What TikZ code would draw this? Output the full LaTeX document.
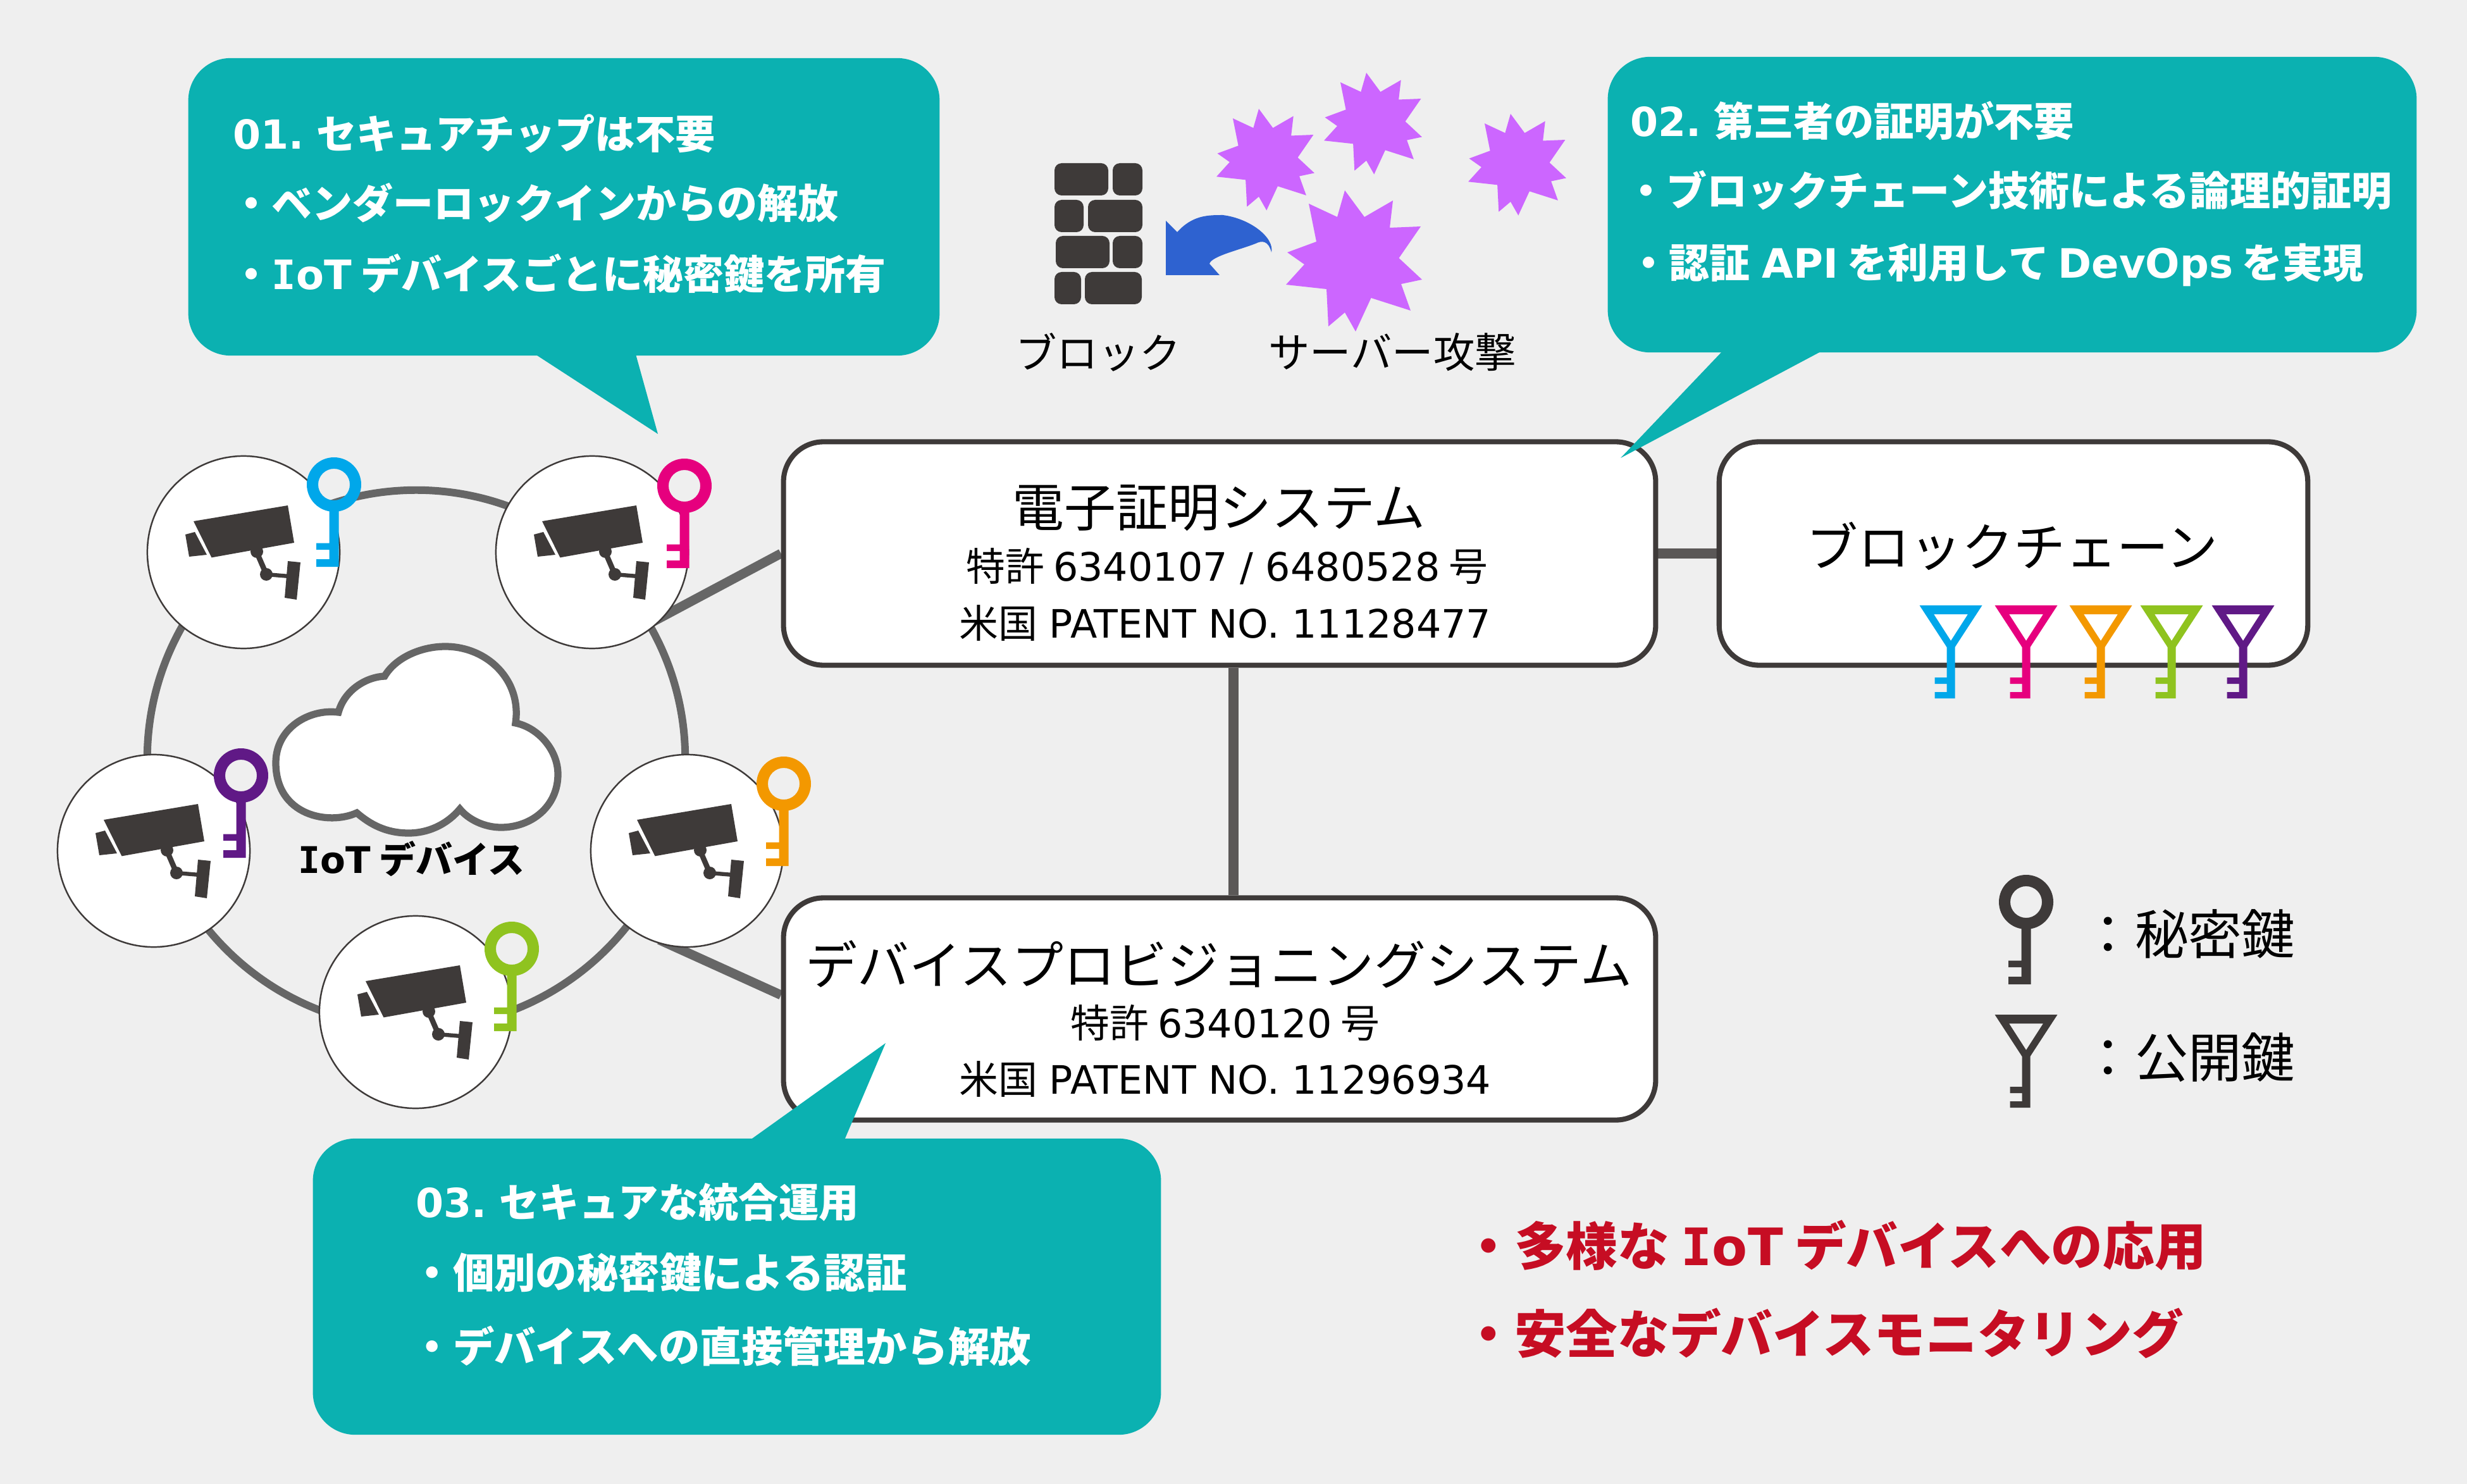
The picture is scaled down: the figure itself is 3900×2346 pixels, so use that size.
\documentclass[tikz,border=0pt]{standalone}
\usepackage{fontspec}
\setmainfont{Noto Sans CJK JP}
\newfontfamily\latf{DejaVu Sans}
\newfontfamily\monof{DejaVu Sans Mono}
\newcommand\lt[1]{{\latf #1}}
\newcommand\iot{{\monof I}{\latf oT} }
\usetikzlibrary{calc}
\pgfdeclarelayer{bglayer}
\pgfdeclarelayer{connlayer}
\pgfsetlayers{bglayer,connlayer,main}
\definecolor{bgc}{HTML}{EFEFEF}
\definecolor{tealc}{HTML}{0BB1B1}
\definecolor{darkc}{HTML}{3E3A39}
\definecolor{linec}{HTML}{666666}
\definecolor{boxline}{HTML}{3E3A39}
\definecolor{burstc}{HTML}{CC66FF}
\definecolor{arrowc}{HTML}{2E62D0}
\definecolor{redc}{HTML}{C60D23}
\definecolor{kblue}{HTML}{00A7EA}
\definecolor{kpink}{HTML}{E6007E}
\definecolor{korange}{HTML}{F39800}
\definecolor{kgreen}{HTML}{8FC31F}
\definecolor{kpurple}{HTML}{601986}
\tikzset{
  sysbox/.style={draw=boxline,line width=2.3pt,fill=white,rounded corners=18pt,inner sep=0pt},
  callout/.style={fill=tealc,rounded corners=19pt,inner sep=0pt},
  camcircle/.style={circle,draw=boxline,line width=0.7pt,fill=white,minimum size=3.04cm,inner sep=0pt},
  systitle/.style={font=\fontsize{23.3}{27}\selectfont,text=black,inner sep=0pt},
  syssub/.style={font=\fontsize{17.6}{21}\selectfont,text=black,inner sep=0pt,text height=15.5pt,text depth=2.1pt},
  calltext/.style={font=\fontsize{18.2}{22}\selectfont\bfseries,text=white,anchor=west,inner sep=0pt,text height=16pt,text depth=2.2pt},
  calltitle/.style={calltext,font=\fontsize{18}{22}\selectfont\bfseries},
  calltextb/.style={calltext,font=\fontsize{18.6}{22}\selectfont\bfseries},
  redtext/.style={font=\fontsize{23.2}{27}\selectfont\bfseries,text=redc,anchor=west,inner sep=0pt,text height=20.4pt,text depth=2.8pt},
  plaintext/.style={font=\fontsize{18.6}{22}\selectfont,text=black,inner sep=0pt},
  legendtext/.style={font=\fontsize{24}{28}\selectfont,text=black,anchor=west,inner sep=0pt},
  conn/.style={draw=linec,line width=4.2pt},
  connbox/.style={draw=boxline!85!white,line width=4.6pt}
}
\newcommand\privkey[3]{\begin{scope}[shift={(#1,#2)}]
  \fill[#3,even odd rule] (0,0) circle (43) (0,0) circle (25);
  \fill[#3] (-7.5,38) -- (7.5,38) -- (7.5,130) -- (-28,130) -- (-28,118) -- (-7.5,118) -- (-7.5,103) -- (-28,103) -- (-28,92.5) -- (-7.5,92.5) -- cycle;
\end{scope}}
\newcommand\pubkey[3]{\begin{scope}[shift={(#1,#2)}]
  \fill[#3,even odd rule] (-49.5,0) -- (49.5,0) -- (6.5,66) -- (-6.5,66) -- cycle (-27,14) -- (27,14) -- (0,56) -- cycle;
  \fill[#3] (-6.5,60) -- (6.5,60) -- (6.5,147) -- (-25.5,147) -- (-25.5,137) -- (-6.5,137) -- (-6.5,124) -- (-25.5,124) -- (-25.5,114) -- (-6.5,114) -- cycle;
\end{scope}}
\newcommand\camglyph[2]{\begin{scope}[shift={(#1,#2)}]
  \fill[darkc] (-79,-49) -- (70,-74) -- (80,-15) -- (-50.5,8.4) -- cycle;
  \fill[darkc] (-92,-28) -- (-77,-32) -- (-58,4) -- (-86,7) -- cycle;
  \fill[darkc] (70,14) -- (90,16) -- (84,75) -- (65,72) -- cycle;
  \draw[darkc,line width=2.4pt] (20,-2) -- (36,35);
  \draw[darkc,line width=1.8pt] (36,35) -- (72,38);
  \fill[darkc] (36,35) circle (10) (21,-1) circle (10);
\end{scope}}
\newcommand\burst[3]{\fill[burstc,shift={(#1,#2)},scale=#3]
  (0,0) -- (31,42) -- (76,16) -- (71,59) -- (120,57) -- (85.5,107) -- (122,141) -- (89,148) -- (104,190) -- (41.5,170) -- (17,223) -- (0,193) -- (-26,215) -- (-29,156) -- (-93,149) -- (-64,117) -- (-91,98) -- (-45,81) -- (-57,21) -- (-12,42) -- cycle;}
\newcommand\brick[4]{\fill[darkc,rounded corners=3.2pt] (#1,#3) rectangle (#2,#4);}
\begin{document}
\begin{tikzpicture}[x=0.01cm,y=-0.01cm]
\useasboundingbox (0,0) rectangle (3900,2346);
\begin{pgfonlayer}{bglayer}
\fill[bgc] (0,0) rectangle (3900,2346);
\end{pgfonlayer}

% ring and cloud
\node[circle,draw=linec,line width=3.4pt,minimum size=8.5cm,inner sep=0pt] (ring) at (658,1200) {};
\draw[linec,line width=3.2pt,fill=white] (564,1285) .. controls (520,1305) and (436,1290) .. (436,1206)
  .. controls (436,1150) and (490,1120) .. (535,1126)
  .. controls (545,1090) and (580,1070) .. (608,1069)
  .. controls (625,1040) and (665,1022) .. (704,1022)
  .. controls (770,1022) and (825,1075) .. (815,1143)
  .. controls (850,1150) and (882,1185) .. (882,1224)
  .. controls (882,1275) and (840,1308) .. (792,1308)
  .. controls (765,1308) and (740,1295) .. (727,1279)
  .. controls (705,1305) and (675,1317) .. (646,1317)
  .. controls (610,1317) and (585,1303) .. (564,1285) -- cycle;
\node[font=\fontsize{16.5}{20}\selectfont\bfseries,text=black,inner sep=0pt] (iotlabel) at (651,1358) {\iot デバイス};

% cameras
\node[camcircle] (cam1) at (385,873) {};
\node[camcircle] (cam2) at (936,873) {};
\node[camcircle] (cam3) at (243,1345) {};
\node[camcircle] (cam4) at (1086,1345) {};
\node[camcircle] (cam5) at (657,1600) {};
\camglyph{385}{873}\camglyph{936}{873}\camglyph{243}{1345}\camglyph{1086}{1345}\camglyph{657}{1600}
\privkey{528}{766}{kblue}
\privkey{1082}{768}{kpink}
\privkey{381}{1226}{kpurple}
\privkey{1239}{1239}{korange}
\privkey{809}{1500}{kgreen}

% system boxes
\node[sysbox,minimum width=13.78cm,minimum height=3.53cm] (cert) at (1928,875) {};
\node[sysbox,minimum width=13.78cm,minimum height=3.51cm] (device) at (1928,1595) {};
\node[sysbox,minimum width=9.30cm,minimum height=3.53cm] (chain) at (3183,875) {};

% connectors
\begin{pgfonlayer}{connlayer}
\draw[conn] ($(cam2.-40)!-0.15!(cert.west)$) -- (cert.west);
\draw[conn] ($(cam4.-97)!-0.15!($(device.west)+(0,-22)$)$) -- ($(device.west)+(0,-22)$);
\draw[connbox] (cert.east) -- (chain.west);
\draw[connbox] ($(cert.south)+(22,0)$) -- ($(device.north)+(22,0)$);
\end{pgfonlayer}

\node[systitle] (certtitle) at (1927,803) {電子証明システム};
\node[syssub] (certa) at (1940,895) {特許 \lt{6340107 / 6480528} 号};
\node[syssub] (certb) at (1937,985) {米国\hspace{.3em}\lt{PATENT NO. 11128477}};
\node[systitle] (devtitle) at (1927,1524) {デバイスプロビジョニングシステム};
\node[syssub] (deva) at (1937,1617) {特許 \lt{6340120} 号};
\node[syssub] (devb) at (1937,1706) {米国\hspace{.3em}\lt{PATENT NO. 11296934}};
\node[systitle] (chaintitle) at (3181,863) {ブロックチェーン};

\pubkey{3084}{957}{kblue}
\pubkey{3203}{957}{kpink}
\pubkey{3321}{957}{korange}
\pubkey{3433}{957}{kgreen}
\pubkey{3546}{957}{kpurple}

% attack picture
\brick{1667}{1752}{258}{309}\brick{1759}{1806}{258}{309}
\brick{1667}{1713}{316}{367}\brick{1720}{1806}{316}{367}
\brick{1669}{1754}{373}{424}\brick{1759}{1806}{373}{424}
\brick{1667}{1709}{430}{481}\brick{1715}{1805}{430}{481}
\fill[arrowc] (1843,349) -- (1861,367) .. controls (1885,340) and (1910,340) .. (1933,340)
  .. controls (1975,345) and (2015,375) .. (2010,399)
  .. controls (2005,380) and (1995,380) .. (1985,385)
  .. controls (1960,395) and (1915,405) .. (1912,417)
  -- (1928,435) -- (1843,435) -- cycle;
\burst{1990}{172}{0.72}
\burst{2160}{115}{0.72}
\burst{2388}{180}{0.72}
\burst{2126}{301}{1}
\node[plaintext] (blocklabel) at (1736,557) {ブロック};
\node[plaintext] (attacklabel) at (2201,557) {サーバー攻撃};

% callouts
\node[callout,minimum width=11.87cm,minimum height=4.70cm] (c1) at (891.5,327) {};
\fill[tealc] (846,560) -- (1040,686) -- (1005,560) -- cycle;
\node[callout,minimum width=12.78cm,minimum height=4.67cm] (c2) at (3181,323.5) {};
\fill[tealc] (2723,555) -- (2562,724) -- (2880,555) -- cycle;
\node[callout,minimum width=13.40cm,minimum height=4.68cm] (c3) at (1165,2034) {};
\fill[tealc] (1186,1802) -- (1400,1649) -- (1335,1802) -- cycle;

\node[calltitle] (t11) at (368,211) {\lt{01.} セキュアチップは不要};
\node[calltext] (t12) at (365,321) {・ベンダーロックインからの解放};
\node[calltext] (t13) at (365,433) {・\iot デバイスごとに秘密鍵を所有};
\node[calltitle] (t21) at (2577,191) {\lt{02.} 第三者の証明が不要};
\node[calltext] (t22) at (2570,301) {・ブロックチェーン技術による論理的証明};
\node[calltext] (t23) at (2574,415) {・認証\hspace{.3em}\lt{API} を利用して \lt{DevOps} を実現};
\node[calltitle] (t31) at (657,1900) {\lt{03.} セキュアな統合運用};
\node[calltextb] (t32) at (650,2012) {・個別の秘密鍵による認証};
\node[calltextb] (t33) at (650,2129) {・デバイスへの直接管理から解放};

% legend
\privkey{3203}{1426}{darkc}
\pubkey{3203}{1604}{darkc}
\node[legendtext] (lega) at (3290,1476) {：秘密鍵};
\node[legendtext] (legb) at (3290,1672) {：公開鍵};

% red notes
\node[redtext] (r1) at (2312,1970) {・多様な\hspace{.23em}\iot デバイスへの応用};
\node[redtext] (r2) at (2312,2109) {・安全なデバイスモニタリング};
\end{tikzpicture}
\end{document}
